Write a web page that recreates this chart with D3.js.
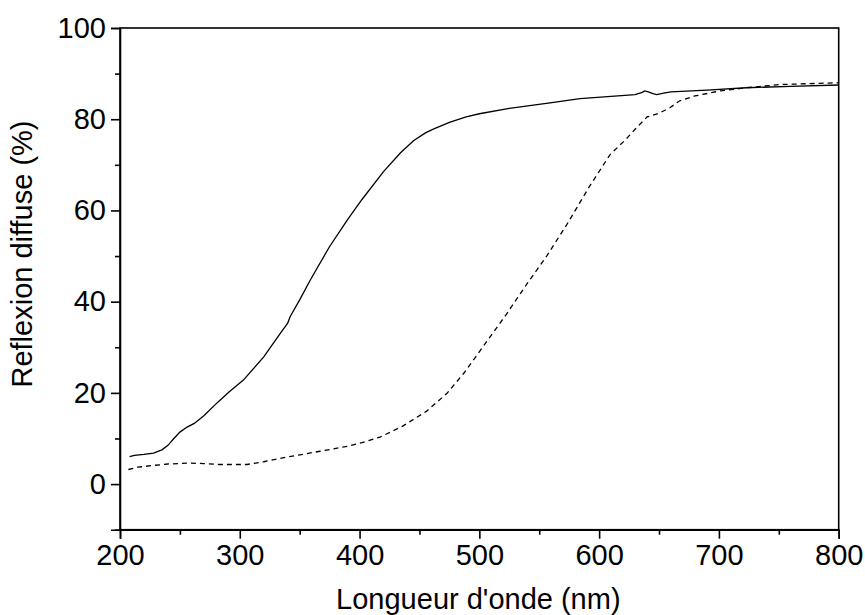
<!DOCTYPE html>
<html>
<head>
<meta charset="utf-8">
<script src="https://cdn.jsdelivr.net/npm/d3@7/dist/d3.min.js"></script>
<style>
  html, body { margin: 0; padding: 0; background: #fff; }
  svg { display: block; font-family: "Liberation Sans", Arial, sans-serif; }
</style>
</head>
<body>
<svg id="chart" width="865" height="615"></svg>
<script>
// Wavelength (nm) and diffuse reflectance (%) — solid curve
const solidWl  = [208,212,220,228,235,240,245,250,256,262,270,281,291,303,320,335,340,342,350,359,375,390,402,420,434,445,455,462,475,489,500,525,559,584,610,630,636,638,641,645,648,655,660,690,723,760,800];
const solidVal = [6.0,6.3,6.5,6.8,7.5,8.5,10.0,11.4,12.5,13.3,15.0,17.8,20.2,22.8,27.9,33.5,35.3,36.7,40.4,44.8,52.1,58.0,62.4,68.5,72.6,75.3,77.0,77.9,79.3,80.5,81.2,82.4,83.6,84.5,85.0,85.4,85.9,86.2,86.0,85.6,85.4,85.8,86.0,86.4,86.9,87.2,87.5];
// Dashed curve
const dashWl  = [207,215,228,240,256,270,283,306,320,339,367,390,402,417,436,456,473,487,503,523,540,556,573,592,609,622,630,640,650,659,667,680,701,723,751,800];
const dashVal = [3.2,3.7,4.1,4.4,4.6,4.5,4.3,4.3,4.9,5.9,7.2,8.3,9.1,10.3,12.7,16.0,19.9,24.3,30.1,37.4,44.0,49.9,56.9,65.3,72.2,75.5,77.8,80.5,81.3,82.5,84.0,85.1,86.2,86.9,87.6,88.0];

const xTicks = [200,300,400,500,600,700,800];
const yTicks = [0,20,40,60,80,100];
const xMinor = [250,350,450,550,650,750];
const yMinor = [-10,10,30,50,70,90];
const xTitle = "Longueur d'onde (nm)";
const yTitle = "Reflexion diffuse (%)";

const svg = d3.select("#chart");
const m = { left: 120, right: 838.7, top: 28, bottom: 529.7 };
const x = d3.scaleLinear().domain([200, 800]).range([m.left, m.right]);
const y = d3.scaleLinear().domain([-10, 100]).range([m.bottom, m.top]);

const FS = 29;

// frame
svg.append("rect")
  .attr("x", m.left).attr("y", m.top)
  .attr("width", m.right - m.left).attr("height", m.bottom - m.top)
  .attr("fill", "none").attr("stroke", "#000").attr("stroke-width", 1.6);

// x axis
svg.append("g").attr("transform", `translate(0,${m.bottom})`)
  .call(d3.axisBottom(x).tickValues(xTicks).tickFormat(d3.format("d")).tickSize(9).tickPadding(6));
svg.append("g").attr("transform", `translate(0,${m.bottom})`)
  .call(d3.axisBottom(x).tickValues(xMinor).tickFormat("").tickSize(5))
  .call(g => g.select(".domain").remove());

// y axis
svg.append("g").attr("transform", `translate(${m.left},0)`)
  .call(d3.axisLeft(y).tickValues(yTicks).tickFormat(d3.format("d")).tickSize(9).tickPadding(5));
svg.append("g").attr("transform", `translate(${m.left},0)`)
  .call(d3.axisLeft(y).tickValues(yMinor).tickFormat("").tickSize(5))
  .call(g => g.select(".domain").remove());

svg.selectAll(".tick line").attr("stroke", "#000").attr("stroke-width", 1.6);
svg.selectAll(".domain").attr("stroke", "#000").attr("stroke-width", 1.6);
svg.selectAll(".tick text")
  .attr("font-family", "'Liberation Sans', Arial, sans-serif")
  .attr("font-size", FS).attr("fill", "#000");

// lines
const line = d3.line().x(d => x(d[0])).y(d => y(d[1]));
svg.append("path")
  .datum(solidWl.map((w, i) => [w, solidVal[i]]))
  .attr("d", line).attr("fill", "none").attr("stroke", "#000").attr("stroke-width", 1.3);
svg.append("path")
  .datum(dashWl.map((w, i) => [w, dashVal[i]]))
  .attr("d", line).attr("fill", "none").attr("stroke", "#000").attr("stroke-width", 1.3)
  .attr("stroke-dasharray", "5,4");

// titles
svg.append("text")
  .attr("x", (m.left + m.right) / 2 - 1).attr("y", 609)
  .attr("text-anchor", "middle").attr("font-size", FS).attr("fill", "#000")
  .text(xTitle);
svg.append("text")
  .attr("transform", `translate(32,254) rotate(-90)`)
  .attr("text-anchor", "middle").attr("font-size", FS).attr("fill", "#000")
  .text(yTitle);
</script>
</body>
</html>
